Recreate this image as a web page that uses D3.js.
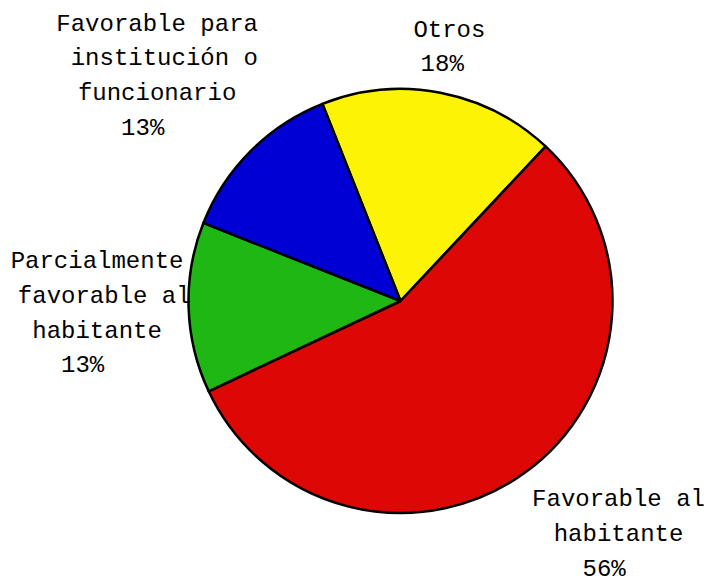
<!DOCTYPE html>
<html>
<head>
<meta charset="utf-8">
<script src="https://cdn.jsdelivr.net/npm/d3@7"></script>
<style>
  html, body { margin: 0; padding: 0; background: #fff; }
  svg text { font-family: "Liberation Mono", "DejaVu Sans Mono", monospace; font-size: 24px; fill: #000; white-space: pre; }
</style>
</head>
<body>
<svg id="chart" width="706" height="584"></svg>
<script>
// Slices in drawing order (clockwise from the Otros wedge)
const categories = ["Otros", "Favorable al habitante", "Parcialmente favorable al habitante", "Favorable para institución o funcionario"];
const values = [18, 56, 13, 13];
const colors = ["#FCF305", "#DD0806", "#1FB714", "#0000D4"];
// Label text, one entry per line (spaces keep the centred lines aligned)
const labelLines = [
  ["Otros", "18% "],
  ["Favorable al", "habitante", "56%  "],
  ["Parcialmente", " favorable al", "habitante", "13%  "],
  ["Favorable para", " institución o", "funcionario", "13%  "]
];

const width = 706, height = 584;
const cx = 400.5, cy = 301, radius = 212;
const startDeg = -21.6;
const lineH = 34.7, charW = 14.4, gap = 13;

// small hand adjustments of the label boxes, keyed by category
const labelNudge = {
  "Otros": [0, 0],
  "Favorable al habitante": [35, 8],
  "Parcialmente favorable al habitante": [15, 2],
  "Favorable para institución o funcionario": [-13, -18]
};

const svg = d3.select("#chart");
const data = categories.map((c, i) => ({ name: c, value: values[i], color: colors[i], lines: labelLines[i] }));

const pie = d3.pie().value(d => d.value).sort(null)
  .startAngle(startDeg * Math.PI / 180)
  .endAngle(startDeg * Math.PI / 180 + 2 * Math.PI);
const arc = d3.arc().innerRadius(0).outerRadius(radius);
const arcs = pie(data);

const g = svg.append("g").attr("transform", `translate(${cx},${cy})`);
g.selectAll("path.slice").data(arcs).join("path")
  .attr("class", "slice")
  .attr("d", arc)
  .attr("fill", d => d.data.color)
  .attr("stroke", "#000")
  .attr("stroke-width", 2.5)
  .attr("stroke-linejoin", "round");

// Labels placed just outside each wedge along its middle angle
arcs.forEach(a => {
  const mid = (a.startAngle + a.endAngle) / 2;
  const ux = Math.sin(mid), uy = -Math.cos(mid);
  const n = a.data.lines.length;
  const w = d3.max(a.data.lines, l => l.length) * charW;
  const h = n * lineH;
  const nudge = labelNudge[a.data.name];
  const bx = cx + ux * (radius + gap) + ux * w / 2 + nudge[0];
  const by = cy + uy * (radius + gap) + uy * h / 2 + nudge[1];
  const firstBaseline = by - (n - 1) * lineH / 2 + 8;
  const t = svg.append("text")
    .attr("text-anchor", "middle")
    .attr("xml:space", "preserve");
  a.data.lines.forEach((line, i) => {
    t.append("tspan")
      .attr("x", bx)
      .attr("y", firstBaseline + i * lineH)
      .text(line);
  });
});
</script>
</body>
</html>
